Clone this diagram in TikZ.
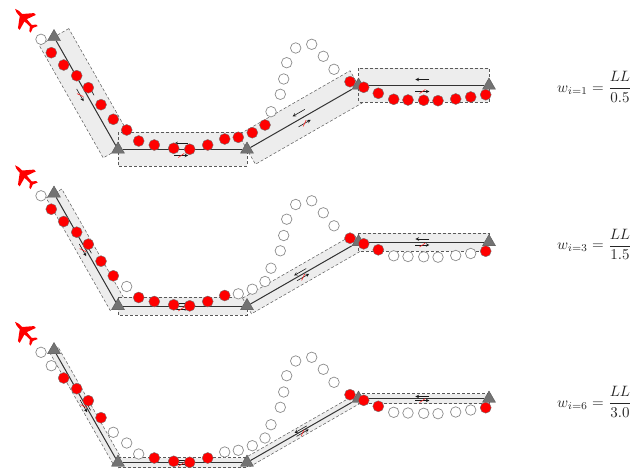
\documentclass[tikz,border=0pt]{standalone}
\usepackage{amsmath}
\usepackage{xcolor}
\usetikzlibrary{shapes.geometric, calc, backgrounds}

\newcommand{\routeleg}[4]{%
    \coordinate (m) at ($(#1)!.49!(#2)$);
    \draw [band] ($(#1)!#3!90:(#2)$) -- ($(#1)!#3!-90:(#2)$) -- ($(#2)!#3!90:(#1)$) -- ($(#2)!#3!-90:(#1)$) -- cycle;
    \draw [leg] (#1) -- (#2);
    \draw [flow] ($(m)!-7pt!(#2)!#4!-90:(#2)$) -- ($(m)!7pt!(#2)!#4!-90:(#2)$);
    \draw [flow] ($(m)!7pt!(#2)!#4!90:(#2)$) -- ($(m)!-7pt!(#2)!#4!90:(#2)$);
    \coordinate (r) at ($(m)!#4!-90:(#2)$);
    \coordinate (e) at ($(m)!7pt!(#2)!#4!-90:(#2)$);
    \draw [slash] ($(r)!3.5pt!35:(e)$) -- ($(r)!-3.5pt!35:(e)$);
}
\newcommand{\flightpanel}[6]{%
    \fill [plane, shift={(25,19.5+#2)}, rotate=43] (0,-14.5) .. controls (1.4,-13) and (1.6,-10) .. (1.6,-6)
        -- (11,1.5) -- (11,4) -- (1.6,1) -- (1.2,8.5) -- (4.8,11.5) -- (4.8,13.5) -- (0,11.5)
        -- (-4.8,13.5) -- (-4.8,11.5) -- (-1.2,8.5) -- (-1.6,1) -- (-11,4) -- (-11,1.5) -- (-1.6,-6)
        .. controls (-1.6,-10) and (-1.4,-13) .. (0,-14.5) -- cycle;
    \node [station] (#1a) at (54,37+#2) {};
    \node [station] (#1b) at (118,149.5+#2) {};
    \node [station] (#1c) at (247,149.5+#2) {};
    \node [station] (#1d) at (358.5,85.5+#2) {};
    \node [station] (#1e) at (489,85.5+#2) {};
    \begin{scope}[on background layer]
        \routeleg{#1a}{#1b}{#3}{#4}
        \routeleg{#1b}{#1c}{#3}{#4}
        \routeleg{#1c}{#1d}{#3}{#4}
        \routeleg{#1d}{#1e}{#3}{#4}
    \end{scope}
    \foreach \i in {#5} \node [missed] (#1w\i) at ($(tr\i)+(0,#2)$) {};
    \foreach \i in {#6} \node [logged] (#1r\i) at ($(tr\i)+(0,#2)$) {};
}

\begin{document}
\begin{tikzpicture}[
    x=1pt, y=-1pt,
    station/.style={regular polygon, regular polygon sides=3, draw=black!65, fill=black!55, inner sep=0pt, minimum size=15pt},
    band/.style={draw=black!65, densely dashed, line width=0.5pt, fill=black!7},
    leg/.style={draw=black!80, line width=1pt},
    flow/.style={-stealth, draw=black!90, line width=0.6pt},
    slash/.style={draw=red!85, line width=0.6pt},
    missed/.style={circle, draw=black!45, fill=white, line width=0.7pt, inner sep=0pt, minimum size=10.5pt},
    logged/.style={circle, draw=black!55, fill=red, line width=0.4pt, inner sep=0pt, minimum size=11pt},
    plane/.style={fill=red},
    weight/.style={scale=1.5, text=black!85}
]
    \useasboundingbox (0,0) rectangle (644,470);
    \foreach \cx/\cy [count=\i] in {41/39.3, 51.3/52.7, 63.7/65, 76.7/75.7, 88.3/87.7, 101/104.7, 113.3/119.3, 126.7/130,
        138.7/141, 154.3/145, 173.7/148.3, 189.7/149.3, 207.7/145, 224.7/139, 238.3/137.3, 252.3/132.7, 265/125,
        271/111.7, 280.3/94.3, 283.7/79, 286.7/62.7, 295.7/48, 311.7/44.3, 323.3/56.3, 334/69.3, 350/81.7,
        363.7/87.3, 378.3/93.3, 393.7/99.3, 408/100, 423.7/100.3, 438/100.7, 455.7/99, 470.7/97, 485.7/94.7}
        \coordinate (tr\i) at (\cx,\cy);

    \flightpanel{p}{0}{17pt}{6pt}{1,18,19,...,25}{2,3,...,17,26,27,...,35}
    \flightpanel{q}{156.5}{9pt}{3pt}{1,8,15,16,...,25,29,30,...,34}{2,3,...,7,9,10,...,14,26,27,28,35}
    \flightpanel{s}{313}{5pt}{2pt}{1,2,7,8,9,14,15,...,25,29,30,...,34}{3,4,5,6,10,11,12,13,26,27,28,35}

    \node [weight] (wp) at (594.5,87) {$\displaystyle w_{i=1}=\frac{LL}{0.5}$};
    \node [weight] (wq) at (594.5,244.5) {$\displaystyle w_{i=3}=\frac{LL}{1.5}$};
    \node [weight] (ws) at (594.5,402) {$\displaystyle w_{i=6}=\frac{LL}{3.0}$};
\end{tikzpicture}
\end{document}
